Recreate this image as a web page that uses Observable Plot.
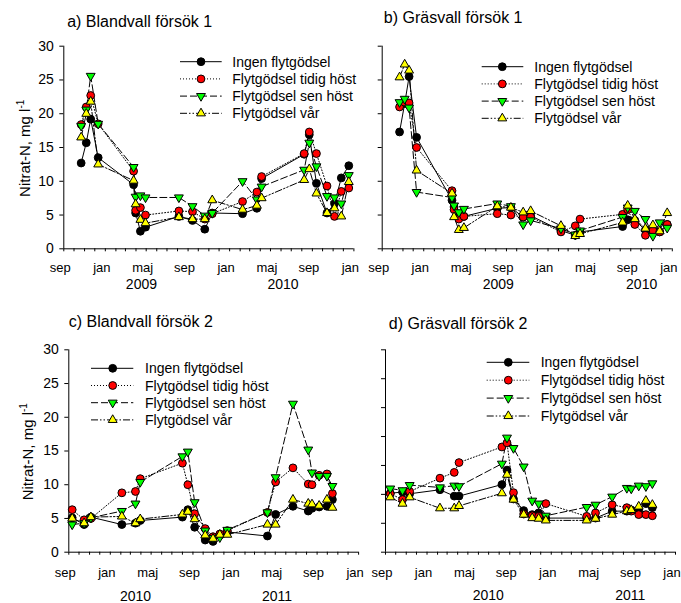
<!DOCTYPE html>
<html><head><meta charset="utf-8">
<script src="https://cdn.jsdelivr.net/npm/d3@7"></script>
<script src="https://cdn.jsdelivr.net/npm/@observablehq/plot@0.6"></script>
<style>
body{margin:0;background:#fff;}
#chart{position:relative;width:681px;height:603px;overflow:hidden;background:#fff;}
#chart svg{position:absolute;}
</style></head><body><div id="chart"></div>
<script>
// ---------- data ----------
const seriesNames = ["Ingen flytgödsel","Flytgödsel tidig höst","Flytgödsel sen höst","Flytgödsel vår"];
const monthLabels = ["jan","","","","maj","","","","sep","","",""];
const yAxisLabel = "Nitrat-N, mg l";
const yAxisSup = "-1";
const titles = ["a) Blandvall försök 1","b) Gräsvall försök 1","c) Blandvall försök 2","d) Gräsvall försök 2"];

const datesForsok1 = ["2008-10-22","2008-11-06","2008-11-19","2008-12-11","2009-03-25","2009-03-31","2009-04-14","2009-04-29","2009-08-05","2009-09-14","2009-10-20","2009-11-11","2010-02-08","2010-03-22","2010-04-05","2010-08-08","2010-08-23","2010-09-13","2010-10-14","2010-11-05","2010-11-25","2010-12-17"];
const aIngen = [12.7,15.7,19.2,13.5,9.5,5.3,2.6,3.2,4.8,4.2,2.9,5.3,5.2,6.0,10.4,14.0,16.9,9.7,5.3,6.7,10.5,12.3];
const aTidig = [18.4,21.0,22.7,18.5,11.5,5.7,6.1,5.0,5.6,5.5,4.4,5.2,7.0,8.4,10.7,14.1,17.3,14.1,9.3,4.8,8.5,9.0];
const aSen   = [18.2,20.6,25.6,18.5,12.1,7.7,7.9,7.6,7.6,6.3,4.9,5.3,10.0,7.3,9.2,11.7,15.7,12.2,7.8,7.6,6.7,10.9];
const aVar   = [16.5,20.0,21.8,12.5,10.1,6.6,4.3,3.8,4.7,4.4,4.4,7.2,5.8,6.4,7.5,10.2,11.8,8.2,5.3,6.0,4.8,9.9];

const bIngen = [17.3,21.5,25.5,16.5,7.2,6.2,4.7,4.8,6.0,6.1,4.7,4.9,2.7,2.0,2.5,3.3,4.3,4.2,2.8,2.7,2.5,3.6];
const bTidig = [21.0,21.7,21.6,15.0,8.6,5.8,4.4,4.8,5.2,5.0,4.7,4.7,2.5,3.4,4.4,5.1,5.8,3.6,2.0,2.7,2.5,3.6];
const bSen   = [21.7,22.2,20.9,8.4,7.6,6.4,5.4,5.9,6.7,6.3,3.6,4.2,3.0,2.1,2.7,4.7,6.1,5.6,4.4,1.9,3.9,3.1];
const bVar   = [25.4,27.3,26.4,11.6,8.2,4.7,2.8,3.1,6.3,6.1,5.4,5.6,3.4,1.9,2.2,3.9,6.4,4.4,3.0,3.5,2.6,5.3];

const datesC = ["2009-09-11","2009-10-16","2009-11-05","2010-02-04","2010-03-16","2010-03-30","2010-08-01","2010-08-17","2010-09-06","2010-10-07","2010-10-30","2010-11-19","2010-12-11","2011-04-08","2011-05-02","2011-06-22","2011-08-06","2011-08-17","2011-09-07","2011-09-30","2011-10-16"];
const cIngen = [5.1,4.1,5.2,4.1,4.3,4.7,5.2,6.3,3.7,1.8,1.6,2.5,3.0,2.4,5.6,6.8,6.1,6.5,6.7,6.8,7.8];
const cTidig = [6.3,4.8,5.0,8.8,9.0,10.9,13.2,10.0,5.7,3.5,2.3,2.7,3.2,5.9,10.4,12.5,10.1,10.0,11.4,11.6,8.7];
const cSen   = [4.1,4.3,5.1,6.1,7.2,10.4,14.2,14.9,7.4,3.2,2.1,2.2,3.3,5.9,11.1,22.0,15.2,11.8,11.3,11.3,9.8];
const cVar   = [5.0,4.3,5.2,5.3,4.3,4.9,5.6,6.0,4.9,2.5,2.0,2.6,2.6,4.1,4.1,7.8,7.2,7.1,6.9,7.8,6.6];

const datesD = ["2009-09-15","2009-10-21","2009-11-11","2010-02-08","2010-03-22","2010-04-05","2010-08-09","2010-08-24","2010-09-12","2010-10-12","2010-11-06","2010-11-25","2010-12-16","2011-04-15","2011-05-11","2011-06-29","2011-08-11","2011-08-24","2011-09-15","2011-10-06","2011-10-25"];
const dIngen = [10.2,10.4,10.1,10.8,9.7,9.7,11.7,14.2,9.2,7.2,6.5,6.8,5.9,5.9,5.9,7.1,7.1,7.3,7.2,8.4,7.7];
const dTidig = [10.1,9.1,10.5,12.8,13.8,15.5,18.2,18.9,10.3,6.6,6.3,6.2,8.4,6.2,6.8,8.2,7.7,7.1,6.5,6.5,6.3];
const dSen   = [11.0,10.7,11.6,11.2,11.5,11.4,15.3,19.8,18.0,14.8,8.9,8.4,6.3,7.8,8.2,9.6,11.1,11.0,11.5,11.4,11.9];
const dVar   = [9.5,8.4,9.5,7.6,7.6,8.0,10.2,13.4,9.1,6.5,5.9,5.8,5.5,5.5,5.8,6.5,7.1,7.3,7.9,8.9,8.2];

const yTicks30 = [0,5,10,15,20,25,30];
const yTicks35 = [0,5,10,15,20,25,30,35];
const yearLabelsA = ["2009","2010"], yearDatesA = ["2009-04-17","2010-06-07"];
const yearLabelsB = ["2009","2010"], yearDatesB = ["2009-08-08","2010-10-03"];
const yearLabelsC = ["2010","2011"], yearDatesC = ["2010-03-16","2011-05-06"];
const yearLabelsD = ["2010","2011"], yearDatesD = ["2010-06-30","2011-08-21"];

// ---------- styles / layout ----------
const fontFamily = '"Liberation Sans", Arial, Helvetica, sans-serif';
const seriesStyle = [
  {fill:"#000000", symbol:"circle",   r:3.9, rotate:0,   dash:null},
  {fill:"#ff0000", symbol:"circle",   r:3.9, rotate:0,   dash:"1,2"},
  {fill:"#00ff00", symbol:"triangle", r:3.3, rotate:180, dash:"7,3"},
  {fill:"#ffff00", symbol:"triangle", r:3.3, rotate:0,   dash:"7,2,1.5,2,1.5,2"}
];
const panels = [
  {title:titles[0], dates:datesForsok1, series:[aIngen,aTidig,aSen,aVar], xStart:"2008-09-01", xEnd:"2011-01-01",
   yMax:30, yTicks:yTicks30, yLabels:true, years:yearLabelsA, yearDates:yearDatesA,
   box:[0,0,360,300], m:[63.3,6.6,45.7,51.7], tp:[66.7,26], lg:[180,221.7,201,232.3,61.7,17.2], monthDy:23.4, yearDy:40, ylab:[30,148.3]},
  {title:titles[1], dates:datesForsok1, series:[bIngen,bTidig,bSen,bVar], xStart:"2008-09-01", xEnd:"2011-01-01",
   yMax:30, yTicks:yTicks30, yLabels:false, years:yearLabelsB, yearDates:yearDatesB,
   box:[340,0,341,300], m:[41.7,9.2,45.7,51.7], tp:[43.3,22.7], lg:[141.7,183.3,162.3,194.3,66.7,17.2], monthDy:23.4, yearDy:40, ylab:null},
  {title:titles[2], dates:datesC, series:[cIngen,cTidig,cSen,cVar], xStart:"2009-09-01", xEnd:"2012-01-01",
   yMax:30, yTicks:yTicks30, yLabels:true, years:yearLabelsC, yearDates:yearDatesC,
   box:[0,300,360,303], m:[68.3,1.9,49.3,51.3], tp:[68.3,26.7], lg:[91,133.3,112.7,145,68.3,17.2], monthDy:25, yearDy:49, ylab:[32.7,151.7]},
  {title:titles[3], dates:datesD, series:[dIngen,dTidig,dSen,dVar], xStart:"2009-09-01", xEnd:"2012-01-01",
   yMax:35, yTicks:yTicks35, yLabels:false, years:yearLabelsD, yearDates:yearDatesD,
   box:[340,300,341,303], m:[45,6,49.3,51.3], tp:[48.3,28.3], lg:[146.7,189.3,168.3,200.7,62.3,17.9], monthDy:25, yearDy:47.5, ylab:null}
];

const chart = document.getElementById("chart");

panels.forEach(P => {
  const xStart = new Date(P.xStart), xEnd = new Date(P.xEnd);
  const monthTicks = d3.utcMonth.range(xStart, new Date(+xEnd + 86400000));
  const labelTicks = monthTicks.filter(d => monthLabels[d.getUTCMonth()] !== "");
  const rows = P.series.map(vals => P.dates.map((d, j) => ({date: new Date(d), v: vals[j]})));
  const marks = [
    Plot.ruleY([0], {stroke:"black", strokeWidth:1}),
    Plot.ruleX([xStart], {stroke:"black", strokeWidth:1}),
    Plot.axisY({ticks:P.yTicks, tickSize:4, tickPadding:6, fontSize:14, label:null,
      tickFormat: P.yLabels ? (d => String(d)) : (() => "")}),
    Plot.axisX({ticks:monthTicks, tickSize:3, tickFormat:() => "", label:null}),
    Plot.axisX({ticks:labelTicks, tickSize:0, tickPadding:P.monthDy - 0.71*13, dx:-3.5, fontSize:13, label:null,
      tickFormat: d => monthLabels[d.getUTCMonth()]}),
    Plot.text(P.yearDates.map(d => new Date(d)), {x: d => d, text: (d, i) => P.years[i],
      frameAnchor:"bottom", lineAnchor:"bottom", dy:P.yearDy, fontSize:14, fill:"black"}),
    Plot.text([P.title], {frameAnchor:"top-left", textAnchor:"start", lineAnchor:"bottom",
      dx:P.tp[0] - P.m[0], dy:P.tp[1] - P.m[2], fontSize:16, fill:"black"})
  ];
  rows.forEach((r, i) => {
    marks.push(Plot.line(r, {x:"date", y:"v", stroke:"black", strokeWidth:1,
      strokeDasharray: seriesStyle[i].dash || undefined}));
  });
  rows.forEach((r, i) => {
    const s = seriesStyle[i];
    marks.push(Plot.dot(r, {x:"date", y:"v", symbol:s.symbol, r:s.r, rotate:s.rotate,
      fill:s.fill, stroke:"black", strokeWidth:1, fillOpacity:1}));
  });
  const svg = Plot.plot({
    width:P.box[2], height:P.box[3],
    marginLeft:P.m[0], marginRight:P.m[1], marginTop:P.m[2], marginBottom:P.m[3],
    style:{fontFamily, fontSize:"13px", color:"black", background:"none", overflow:"visible"},
    x:{type:"utc", domain:[xStart, xEnd]},
    y:{domain:[0, P.yMax]},
    marks
  });
  svg.style.left = P.box[0] + "px";
  svg.style.top = P.box[1] + "px";
  svg.style.maxWidth = "none";

  const sel = d3.select(svg);
  // y-axis title
  if (P.ylab) {
    const t = sel.append("text")
      .attr("transform", `translate(${P.ylab[0]},${P.ylab[1]}) rotate(-90)`)
      .attr("text-anchor", "middle").attr("font-size", 15)
      .attr("font-family", fontFamily).attr("fill", "black");
    t.append("tspan").text(yAxisLabel);
    t.append("tspan").attr("font-size", 10).attr("dy", -6).text(yAxisSup);
  }
  // legend
  const [x1, x2, mx, tx, y0, step] = P.lg;
  const g = sel.append("g");
  seriesNames.forEach((name, i) => {
    const s = seriesStyle[i];
    const y = y0 + i * step;
    g.append("line").attr("x1", x1).attr("x2", x2).attr("y1", y).attr("y2", y)
      .attr("stroke", "black").attr("stroke-width", 1)
      .attr("stroke-dasharray", s.dash);
    g.append("path")
      .attr("d", d3.symbol(s.symbol === "circle" ? d3.symbolCircle : d3.symbolTriangle, Math.PI * s.r * s.r)())
      .attr("transform", `translate(${mx},${y}) rotate(${s.rotate})`)
      .attr("fill", s.fill).attr("stroke", "black").attr("stroke-width", 1);
    g.append("text").attr("x", tx).attr("y", y + 5).attr("font-size", 14)
      .attr("text-anchor", "start")
      .attr("font-family", fontFamily).attr("fill", "black").text(name);
  });
  chart.appendChild(svg);
});
</script></body></html>
